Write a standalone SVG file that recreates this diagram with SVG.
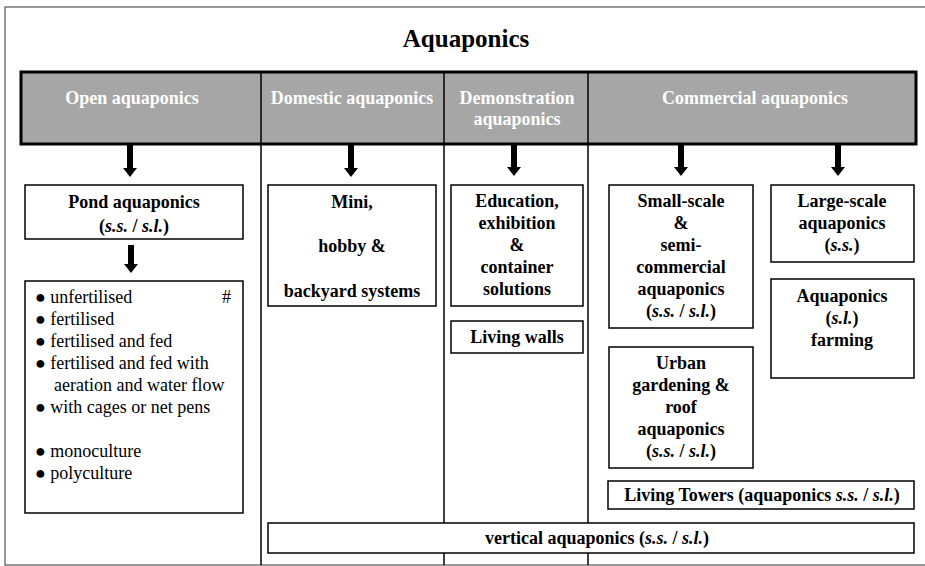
<svg xmlns="http://www.w3.org/2000/svg" width="925" height="566" viewBox="0 0 925 566">
<style>
.t{font-family:"Liberation Serif","Times New Roman",serif;font-size:18px;fill:#000}
.b{font-weight:bold}
.c{text-anchor:middle}
.h{font-weight:bold;fill:#fff;text-anchor:middle}
.i{font-style:italic}
.title{font-size:25px}
.box{fill:#fff;stroke:#000;stroke-width:1.5}
.div{stroke:#000;stroke-width:1.5;fill:none}
.arr{fill:#000}
</style>
<rect x="0" y="0" width="925" height="566" fill="#fff"/>
<rect x="5" y="7" width="940" height="558" fill="none" stroke="#555" stroke-width="1.2"/>
<text class="t b c title" x="466" y="47">Aquaponics</text>

<g id="header">
<rect x="21" y="72" width="895" height="72" fill="#a6a6a6" stroke="#000" stroke-width="3"/>
<text class="t h" x="132" y="104">Open aquaponics</text>
<text class="t h" x="352" y="104">Domestic aquaponics</text>
<text class="t h" x="517" y="104">Demonstration</text>
<text class="t h" x="517" y="125">aquaponics</text>
<text class="t h" x="755" y="104">Commercial aquaponics</text>
</g>

<g id="dividers">
<line class="div" x1="261" y1="72" x2="261" y2="565"/>
<line class="div" x1="444" y1="72" x2="444" y2="565"/>
<line class="div" x1="588" y1="72" x2="588" y2="565"/>
</g>

<g id="connectors">
<path class="arr" d="M127 145 V168 H123 L130 177 L137 168 H133 V145 Z"/>
<path class="arr" d="M348 145 V168 H344 L351 177 L358 168 H354 V145 Z"/>
<path class="arr" d="M511 145 V167 H507 L514 176 L521 167 H517 V145 Z"/>
<path class="arr" d="M678 145 V167 H674 L681 176 L688 167 H684 V145 Z"/>
<path class="arr" d="M835 145 V167 H831 L838 176 L845 167 H841 V145 Z"/>
<path class="arr" d="M128 245 V264 H124 L131 273 L138 264 H134 V245 Z"/>
</g>

<g id="pond">
<rect class="box" x="25" y="185" width="218" height="54"/>
<text class="t b c" x="134" y="208">Pond aquaponics</text>
<text class="t b c" x="134" y="232">(<tspan class="i">s.s.</tspan> / <tspan class="i">s.l.</tspan>)</text>
</g>

<g id="pond-list">
<rect class="box" x="25" y="281" width="218" height="232"/>
<text class="t" x="35" y="303">● unfertilised</text>
<text class="t" x="222" y="303">#</text>
<text class="t" x="35" y="325">● fertilised</text>
<text class="t" x="35" y="347">● fertilised and fed</text>
<text class="t" x="35" y="369">● fertilised and fed with</text>
<text class="t" x="54" y="391">aeration and water flow</text>
<text class="t" x="35" y="413">● with cages or net pens</text>
<text class="t" x="35" y="457">● monoculture</text>
<text class="t" x="35" y="479">● polyculture</text>
</g>

<g id="domestic">
<rect class="box" x="268" y="185" width="168" height="121"/>
<text class="t b c" x="352" y="208">Mini,</text>
<text class="t b c" x="352" y="252">hobby &amp;</text>
<text class="t b c" x="352" y="297">backyard systems</text>
</g>

<g id="education">
<rect class="box" x="451" y="185" width="132" height="121"/>
<text class="t b c" x="517" y="207">Education,</text>
<text class="t b c" x="517" y="229">exhibition</text>
<text class="t b c" x="517" y="251">&amp;</text>
<text class="t b c" x="517" y="273">container</text>
<text class="t b c" x="517" y="295">solutions</text>
</g>

<g id="living-walls">
<rect class="box" x="451" y="321" width="132" height="32"/>
<text class="t b c" x="517" y="343">Living walls</text>
</g>

<g id="small-scale">
<rect class="box" x="609" y="185" width="144" height="143"/>
<text class="t b c" x="681" y="207">Small-scale</text>
<text class="t b c" x="681" y="229">&amp;</text>
<text class="t b c" x="681" y="251">semi-</text>
<text class="t b c" x="681" y="273">commercial</text>
<text class="t b c" x="681" y="295">aquaponics</text>
<text class="t b c" x="681" y="317">(<tspan class="i">s.s.</tspan> / <tspan class="i">s.l.</tspan>)</text>
</g>

<g id="urban">
<rect class="box" x="609" y="347" width="144" height="121"/>
<text class="t b c" x="681" y="369">Urban</text>
<text class="t b c" x="681" y="391">gardening &amp;</text>
<text class="t b c" x="681" y="413">roof</text>
<text class="t b c" x="681" y="435">aquaponics</text>
<text class="t b c" x="681" y="457">(<tspan class="i">s.s.</tspan> / <tspan class="i">s.l.</tspan>)</text>
</g>

<g id="large-scale">
<rect class="box" x="771" y="185" width="143" height="77"/>
<text class="t b c" x="842" y="207">Large-scale</text>
<text class="t b c" x="842" y="229">aquaponics</text>
<text class="t b c" x="842" y="251">(<tspan class="i">s.s.</tspan>)</text>
</g>

<g id="farming">
<rect class="box" x="771" y="279" width="143" height="99"/>
<text class="t b c" x="842" y="302">Aquaponics</text>
<text class="t b c" x="842" y="324">(<tspan class="i">s.l.</tspan>)</text>
<text class="t b c" x="842" y="346">farming</text>
</g>

<g id="living-towers">
<rect class="box" x="608" y="481" width="306" height="28"/>
<text class="t b c" x="762" y="501">Living Towers (aquaponics <tspan class="i">s.s.</tspan> / <tspan class="i">s.l.</tspan>)</text>
</g>

<g id="vertical">
<rect class="box" x="268" y="523" width="646" height="30"/>
<text class="t b c" x="597" y="544">vertical aquaponics (<tspan class="i">s.s.</tspan> / <tspan class="i">s.l.</tspan>)</text>
</g>
</svg>
